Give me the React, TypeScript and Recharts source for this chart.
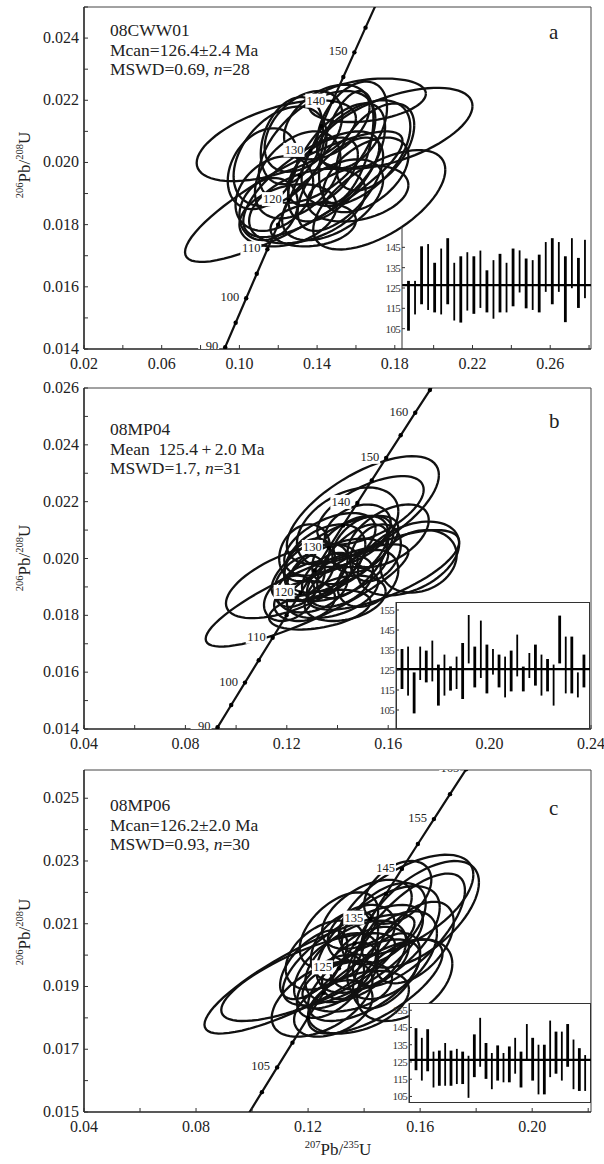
import { ScatterChart, Scatter, XAxis, YAxis, ReferenceLine, BarChart, Bar } from 'recharts'

const SERIF = '"Liberation Serif", "Times New Roman", Times, serif'
const INK = '#111'

// decay constants, per Ma
const LAMBDA_238 = 1.55125e-4
const LAMBDA_235 = 9.8485e-4

const concordiaAges = [80, 85, 90, 95, 100, 105, 110, 115, 120, 125, 130, 135, 140, 145, 150, 155, 160, 165, 170]

// error ellipses: [207Pb/235U, 206Pb/238U, half width (x), half height (y), rho]
const ellipsesA = [
  [0.128, 0.0189, 0.056, 0.0021, 0.85],
  [0.119, 0.0207, 0.041, 0.0013, 0.55],
  [0.180, 0.0211, 0.040, 0.0013, 0.55],
  [0.166, 0.0220, 0.030, 0.0007, 0.3],
  [0.172, 0.0188, 0.034, 0.0016, 0.6],
  [0.140, 0.0205, 0.030, 0.0018, 0.5],
  [0.130, 0.0196, 0.022, 0.0014, 0.4],
  [0.150, 0.0200, 0.025, 0.0019, 0.6],
  [0.118, 0.0190, 0.020, 0.0012, 0.3],
  [0.145, 0.0213, 0.022, 0.0012, 0.4],
  [0.160, 0.0203, 0.028, 0.0017, 0.5],
  [0.125, 0.0183, 0.025, 0.0010, 0.3],
  [0.135, 0.0186, 0.030, 0.0012, 0.4],
  [0.152, 0.0193, 0.022, 0.0015, 0.6],
  [0.112, 0.0198, 0.018, 0.0013, 0.3],
  [0.143, 0.0197, 0.018, 0.0011, 0.5],
  [0.158, 0.0212, 0.018, 0.0014, 0.4],
  [0.133, 0.0210, 0.020, 0.0013, 0.4],
  [0.121, 0.0202, 0.024, 0.0016, 0.4],
  [0.165, 0.0196, 0.022, 0.0012, 0.5],
  [0.138, 0.0180, 0.022, 0.0007, 0.2],
  [0.148, 0.0188, 0.026, 0.0013, 0.5],
  [0.127, 0.0207, 0.016, 0.0014, 0.3],
  [0.155, 0.0205, 0.014, 0.0018, 0.5],
  [0.170, 0.0205, 0.020, 0.0014, 0.5],
  [0.137, 0.0193, 0.035, 0.0017, 0.7],
  [0.115, 0.0185, 0.015, 0.0010, 0.2],
  [0.161, 0.0190, 0.026, 0.0009, 0.3],
]

const ellipsesB = [
  [0.128, 0.0187, 0.040, 0.0018, 0.85],
  [0.122, 0.0192, 0.026, 0.0013, 0.6],
  [0.150, 0.0217, 0.030, 0.0019, 0.65],
  [0.153, 0.0217, 0.021, 0.0012, 0.6],
  [0.168, 0.0200, 0.020, 0.0013, 0.4],
  [0.172, 0.0199, 0.015, 0.0011, 0.2],
  [0.158, 0.0196, 0.030, 0.0014, 0.7],
  [0.140, 0.0196, 0.020, 0.0011, 0.5],
  [0.135, 0.0200, 0.016, 0.0012, 0.4],
  [0.130, 0.0190, 0.014, 0.0009, 0.3],
  [0.145, 0.0203, 0.015, 0.0012, 0.5],
  [0.127, 0.0185, 0.012, 0.0007, 0.2],
  [0.138, 0.0188, 0.018, 0.0009, 0.4],
  [0.150, 0.0205, 0.012, 0.0010, 0.4],
  [0.132, 0.0195, 0.012, 0.0010, 0.5],
  [0.141, 0.0192, 0.013, 0.0009, 0.4],
  [0.125, 0.0192, 0.010, 0.0009, 0.4],
  [0.146, 0.0199, 0.014, 0.0013, 0.6],
  [0.137, 0.0205, 0.018, 0.0011, 0.5],
  [0.155, 0.0202, 0.010, 0.0010, 0.3],
  [0.129, 0.0197, 0.010, 0.0010, 0.3],
  [0.143, 0.0186, 0.016, 0.0008, 0.3],
  [0.133, 0.0182, 0.020, 0.0007, 0.4],
  [0.148, 0.0210, 0.013, 0.0009, 0.3],
  [0.121, 0.0186, 0.010, 0.0008, 0.3],
  [0.139, 0.0200, 0.025, 0.0015, 0.7],
  [0.152, 0.0193, 0.012, 0.0010, 0.3],
  [0.127, 0.0202, 0.010, 0.0010, 0.2],
  [0.144, 0.0211, 0.020, 0.0014, 0.4],
  [0.136, 0.0194, 0.010, 0.0008, 0.5],
  [0.160, 0.0208, 0.016, 0.0011, 0.5],
]

const ellipsesC = [
  [0.1205, 0.0194, 0.0375, 0.0019, 0.85],
  [0.120, 0.0193, 0.031, 0.0014, 0.75],
  [0.1545, 0.0192, 0.017, 0.0013, 0.4],
  [0.155, 0.0216, 0.024, 0.0016, 0.6],
  [0.160, 0.0213, 0.021, 0.0017, 0.6],
  [0.125, 0.0186, 0.018, 0.0012, 0.5],
  [0.136, 0.0200, 0.025, 0.0016, 0.7],
  [0.145, 0.0205, 0.022, 0.0017, 0.6],
  [0.130, 0.0195, 0.015, 0.0012, 0.5],
  [0.140, 0.0192, 0.020, 0.0013, 0.6],
  [0.150, 0.0200, 0.016, 0.0014, 0.5],
  [0.133, 0.0203, 0.012, 0.0011, 0.4],
  [0.128, 0.0190, 0.012, 0.0010, 0.5],
  [0.142, 0.0199, 0.014, 0.0010, 0.4],
  [0.138, 0.0185, 0.018, 0.0010, 0.4],
  [0.147, 0.0210, 0.015, 0.0013, 0.5],
  [0.122, 0.0197, 0.012, 0.0011, 0.6],
  [0.135, 0.0195, 0.010, 0.0009, 0.4],
  [0.152, 0.0220, 0.012, 0.0010, 0.4],
  [0.144, 0.0190, 0.024, 0.0015, 0.7],
  [0.131, 0.0208, 0.014, 0.0012, 0.5],
  [0.126, 0.0200, 0.014, 0.0011, 0.4],
  [0.139, 0.0207, 0.012, 0.0009, 0.3],
  [0.158, 0.0204, 0.014, 0.0013, 0.5],
  [0.134, 0.0190, 0.016, 0.0008, 0.3],
  [0.148, 0.0195, 0.012, 0.0012, 0.5],
  [0.141, 0.0213, 0.016, 0.0011, 0.5],
  [0.129, 0.0183, 0.014, 0.0009, 0.4],
  [0.156, 0.0208, 0.020, 0.0018, 0.7],
  [0.137, 0.0198, 0.018, 0.0013, 0.5],
]

// weighted-mean insets: [low, high] age in Ma
const insetA = [
  [104, 128.5], [112, 128.5], [117, 145.5], [114.2, 146.6], [113, 137.4], [112, 144.4], [117, 149.5],
  [109, 137.4], [108, 140.6], [113.9, 142.6], [112.3, 140.6], [115.2, 143.4], [113, 133.7], [109.9, 138.7],
  [113, 141.8], [113, 137.4], [116, 144.4], [122.8, 143.5], [115, 139.5], [114.2, 138.7], [113, 141.4],
  [123.1, 147.6], [117, 149.5], [123.1, 147.6], [108.2, 140.6], [124.9, 149.5], [115.2, 139.8], [120, 148.7],
]
const insetB = [
  [115.5, 135.5], [112.2, 136.7], [103.3, 123.8], [120, 136.7], [118.8, 134.7], [119.3, 139.7], [107.2, 127.7],
  [112.2, 132.7], [114.7, 126.8], [115.5, 131.7], [110.5, 138.5], [128.3, 152.5], [116.3, 136.7], [121, 149.7],
  [113.3, 137.7], [122.7, 135.5], [116.3, 132.7], [111.3, 131.7], [114.3, 134.7], [121.8, 142.7], [114.3, 126.7],
  [121, 133.5], [117.2, 137.7], [112.2, 132.7], [114.3, 130.5], [107.2, 127.7], [128.3, 152.2], [113.3, 141.7],
  [113.3, 141.7], [111.3, 123.8], [116.3, 132.7],
]
const insetC = [
  [120.2, 144.6], [114.2, 139], [119.6, 144], [110.2, 131], [111.2, 131.6], [111.2, 136], [111.2, 131.6],
  [112.2, 132.6], [112.2, 131], [104.2, 128.6], [116.2, 141], [122.2, 150.6], [115.2, 136], [109.2, 130.2],
  [114.2, 134.6], [113.2, 130.2], [113.2, 134], [118.2, 139], [110.2, 131], [126.2, 147], [114.2, 139],
  [106.2, 135], [106.2, 135], [116.2, 149], [118.2, 142.6], [114.2, 142.6], [122.2, 147], [109.2, 138],
  [108.2, 133], [108.2, 129],
]
const meanA = 126.4
const meanB = 125.4
const meanC = 126.2

const xTicksA = [0.02, 0.04, 0.06, 0.08, 0.1, 0.12, 0.14, 0.16, 0.18, 0.2, 0.22, 0.24, 0.26, 0.28]
const xLabelsA = [0.02, 0.06, 0.1, 0.14, 0.18, 0.22, 0.26]
const yTicksA = [0.014, 0.015, 0.016, 0.017, 0.018, 0.019, 0.02, 0.021, 0.022, 0.023, 0.024, 0.025]
const yLabelsA = [0.014, 0.016, 0.018, 0.02, 0.022, 0.024]

const xTicksB = [0.04, 0.06, 0.08, 0.1, 0.12, 0.14, 0.16, 0.18, 0.2, 0.22, 0.24]
const xLabelsB = [0.04, 0.08, 0.12, 0.16, 0.2, 0.24]
const yTicksB = [0.014, 0.015, 0.016, 0.017, 0.018, 0.019, 0.02, 0.021, 0.022, 0.023, 0.024, 0.025, 0.026]
const yLabelsB = [0.014, 0.016, 0.018, 0.02, 0.022, 0.024, 0.026]

const xTicksC = [0.04, 0.06, 0.08, 0.1, 0.12, 0.14, 0.16, 0.18, 0.2, 0.22]
const xLabelsC = [0.04, 0.08, 0.12, 0.16, 0.2]
const yTicksC = [0.015, 0.016, 0.017, 0.018, 0.019, 0.02, 0.021, 0.022, 0.023, 0.024, 0.025]
const yLabelsC = [0.015, 0.017, 0.019, 0.021, 0.023, 0.025]

const labelAgesA = [90, 100, 110, 120, 130, 140, 150]
const labelAgesB = [90, 100, 110, 120, 130, 140, 150, 160]
const labelAgesC = [105, 125, 135, 145, 155, 165]

const insetTicksA = [105, 115, 125, 135, 145]
const insetTicksBC = [105, 115, 125, 135, 145, 155]

const concordia = concordiaAges.map((t) => ({ t, x: Math.expm1(LAMBDA_235 * t), y: Math.expm1(LAMBDA_238 * t) }))

function ellipsePoints(e: number[]) {
  const [cx, cy, ex, ey, rho] = e
  const s = Math.sqrt(1 - rho * rho)
  const pts = []
  for (let k = 0; k <= 72; k++) {
    const a = (k / 72) * 2 * Math.PI
    pts.push({ x: cx + ex * Math.cos(a), y: cy + ey * (rho * Math.cos(a) + s * Math.sin(a)) })
  }
  return pts
}

const isIn = (list: number[], v: number) => list.some((l) => Math.abs(l - v) < 1e-9)

const xTick = (labels: number[]) => (p: any) => {
  const v = p.payload.value
  return (
    <g>
      <line x1={p.x} x2={p.x} y1={p.y} y2={p.y - 4} stroke="#333" />
      {isIn(labels, v) && (
        <text x={p.x} y={p.y + 20} textAnchor="middle" fontFamily={SERIF} fontSize={16} fill="#222">
          {v.toFixed(2)}
        </text>
      )}
    </g>
  )
}

const yTick = (labels: number[]) => (p: any) => {
  const v = p.payload.value
  return (
    <g>
      <line x1={p.x} x2={p.x + 4} y1={p.y} y2={p.y} stroke="#333" />
      {isIn(labels, v) && (
        <text x={p.x - 5} y={p.y + 5} textAnchor="end" fontFamily={SERIF} fontSize={16} fill="#222">
          {v.toFixed(3)}
        </text>
      )}
    </g>
  )
}

const concordiaMark = (labelAges: number[]) => (p: any) => {
  const { cx, cy, payload } = p
  const lab = labelAges.includes(payload.t)
  return (
    <g>
      <circle cx={cx} cy={cy} r={2.2} fill="#000" />
      {lab && (
        <>
          <rect x={cx - 27} y={cy - 8} width={21} height={14} fill="#fff" />
          <text x={cx - 7} y={cy + 3} textAnchor="end" fontFamily={SERIF} fontSize={12.5} fill="#222">
            {payload.t}
          </text>
        </>
      )}
    </g>
  )
}

const noDot = () => <g />

function Concordia({ height, marginTop, axisH, xDomain, yDomain, xTicks, xLabels, yTicks, yLabels, ellipses, labelAges }: any) {
  return (
    <ScatterChart width={604} height={height} margin={{ top: marginTop, right: 13, bottom: 0, left: 0 }}>
      <XAxis type="number" dataKey="x" domain={xDomain} allowDataOverflow ticks={xTicks} interval={0} height={axisH}
        tickSize={0} tickMargin={0} tickLine={false} tick={xTick(xLabels)} axisLine={{ stroke: '#222', strokeWidth: 1.6 }} />
      <YAxis type="number" dataKey="y" domain={yDomain} allowDataOverflow ticks={yTicks} interval={0} width={84}
        tickSize={0} tickMargin={0} tickLine={false} tick={yTick(yLabels)} axisLine={{ stroke: '#222', strokeWidth: 1.6 }} />
      <ReferenceLine y={yDomain[1]} stroke="#444" strokeWidth={1} />
      <ReferenceLine x={xDomain[1]} stroke="#444" strokeWidth={1} />
      {ellipses.map((e: number[], i: number) => (
        <Scatter key={'e' + i} name={'e' + i} data={ellipsePoints(e)} line={{ stroke: INK, strokeWidth: 2.3, fill: 'none' }}
          lineType="joint" shape={noDot} isAnimationActive={false} />
      ))}
      <Scatter name="concordia" data={concordia} line={{ stroke: INK, strokeWidth: 2.2, fill: 'none' }} lineType="joint"
        shape={noDot} isAnimationActive={false} />
      <Scatter name="ages" data={concordia} shape={concordiaMark(labelAges)} isAnimationActive={false} />
    </ScatterChart>
  )
}

const barShape = (p: any) => {
  const w = p.index % 2 === 0 ? 2.8 : 1.8
  return <rect x={p.x + p.width / 2 - w / 2} y={p.y} width={w} height={Math.abs(p.height)} fill="#000" />
}

const insetTick = (p: any) => (
  <g>
    <line x1={p.x} x2={p.x + 3} y1={p.y} y2={p.y} stroke="#333" />
    <text x={p.x - 2} y={p.y + 4} textAnchor="end" fontFamily={SERIF} fontSize={11} letterSpacing={-0.7} fill="#333">
      {p.payload.value}
    </text>
  </g>
)

function Inset({ left, top, width, height, values, mean, domain, ticks, pad, boxed }: any) {
  const data = values.map((r: number[], i: number) => ({ i, range: r }))
  return (
    <div style={{ position: 'absolute', left, top, width, height }}>
      {boxed && (
        <div style={{ position: 'absolute', left: 32, top: 7, width: width - 32, height: height - 7, boxSizing: 'border-box',
          background: '#fff', border: '1px solid #333' }} />
      )}
      <div style={{ position: 'absolute', left: 0, top: 0 }}>
        <BarChart width={width} height={height} data={data} margin={{ top: 7, right: 0, bottom: 0, left: 0 }} barCategoryGap={0}>
          <XAxis dataKey="i" hide padding={pad} />
          <YAxis type="number" domain={domain} allowDataOverflow ticks={ticks} interval={0} width={32} tickSize={0}
            tickMargin={0} tickLine={false} tick={insetTick} axisLine={{ stroke: '#333', strokeWidth: 1 }} />
          <Bar dataKey="range" shape={barShape} isAnimationActive={false} />
          <ReferenceLine y={mean} stroke="#000" strokeWidth={2.2} />
        </BarChart>
      </div>
    </div>
  )
}

const sup = { fontSize: 10.5, verticalAlign: 'super', lineHeight: 0 } as const

function YTitle({ top }: { top: number }) {
  return (
    <div style={{ position: 'absolute', left: 25, top, transform: 'translate(-50%, -50%) rotate(-90deg)',
      whiteSpace: 'nowrap', fontFamily: SERIF, fontSize: 17, color: '#222' }}>
      <span style={sup}>206</span>Pb/<span style={sup}>208</span>U
    </div>
  )
}

function Note({ top, lines }: { top: number; lines: any[] }) {
  return (
    <div style={{ position: 'absolute', left: 110, top, fontFamily: SERIF, fontSize: 17.5, lineHeight: '19.5px', color: '#222' }}>
      {lines.map((l, i) => <div key={i}>{l}</div>)}
    </div>
  )
}

function Letter({ top, text }: { top: number; text: string }) {
  return (
    <div style={{ position: 'absolute', left: 549, top, fontFamily: SERIF, fontSize: 21, color: '#222' }}>{text}</div>
  )
}

export default function App() {
  return (
    <div style={{ position: 'relative', width: 604, height: 1164, background: '#fff', overflow: 'hidden' }}>
      <style>{'body{margin:0}'}</style>

      <div style={{ position: 'absolute', left: 0, top: 0 }}>
        <Concordia height={380} marginTop={7} axisH={31} xDomain={[0.02, 0.281]} yDomain={[0.014, 0.025]}
          xTicks={xTicksA} xLabels={xLabelsA} yTicks={yTicksA} yLabels={yLabelsA} ellipses={ellipsesA} labelAges={labelAgesA} />
      </div>
      <div style={{ position: 'absolute', left: 0, top: 380 }}>
        <Concordia height={380} marginTop={8} axisH={31} xDomain={[0.04, 0.24]} yDomain={[0.014, 0.026]}
          xTicks={xTicksB} xLabels={xLabelsB} yTicks={yTicksB} yLabels={yLabelsB} ellipses={ellipsesB} labelAges={labelAgesB} />
      </div>
      <div style={{ position: 'absolute', left: 0, top: 760 }}>
        <Concordia height={404} marginTop={10} axisH={52} xDomain={[0.04, 0.221]} yDomain={[0.015, 0.0259]}
          xTicks={xTicksC} xLabels={xLabelsC} yTicks={yTicksC} yLabels={yLabelsC} ellipses={ellipsesC} labelAges={labelAgesC} />
      </div>

      <Inset left={370} top={220} width={221} height={129} values={insetA} mean={meanA} domain={[95, 155]}
        ticks={insetTicksA} pad={{ left: 3, right: 3 }} boxed={false} />
      <Inset left={364} top={595} width={226} height={134} values={insetB} mean={meanB} domain={[95.5, 159]}
        ticks={insetTicksBC} pad={{ left: 3, right: 3 }} boxed />
      <Inset left={377} top={996} width={214} height={107} values={insetC} mean={meanC} domain={[101.2, 159.2]}
        ticks={insetTicksBC} pad={{ left: 4, right: 3 }} boxed />

      <YTitle top={165} />
      <YTitle top={558} />
      <YTitle top={932} />

      <Note top={21} lines={['08CWW01', 'Mcan=126.4±2.4 Ma', <span>MSWD=0.69, <i>n</i>=28</span>]} />
      <Note top={420} lines={['08MP04', 'Mean\u00a0\u00a0125.4\u2009+\u20092.0 Ma', <span>MSWD=1.7, <i>n</i>=31</span>]} />
      <Note top={796} lines={['08MP06', 'Mcan=126.2±2.0 Ma', <span>MSWD=0.93, <i>n</i>=30</span>]} />

      <Letter top={20} text="a" />
      <Letter top={409} text="b" />
      <Letter top={796} text="c" />

      <div style={{ position: 'absolute', left: 338, top: 1150, transform: 'translate(-50%, -50%)', whiteSpace: 'nowrap',
        fontFamily: SERIF, fontSize: 17, color: '#222' }}>
        <span style={sup}>207</span>Pb/<span style={sup}>235</span>U
      </div>
    </div>
  )
}
